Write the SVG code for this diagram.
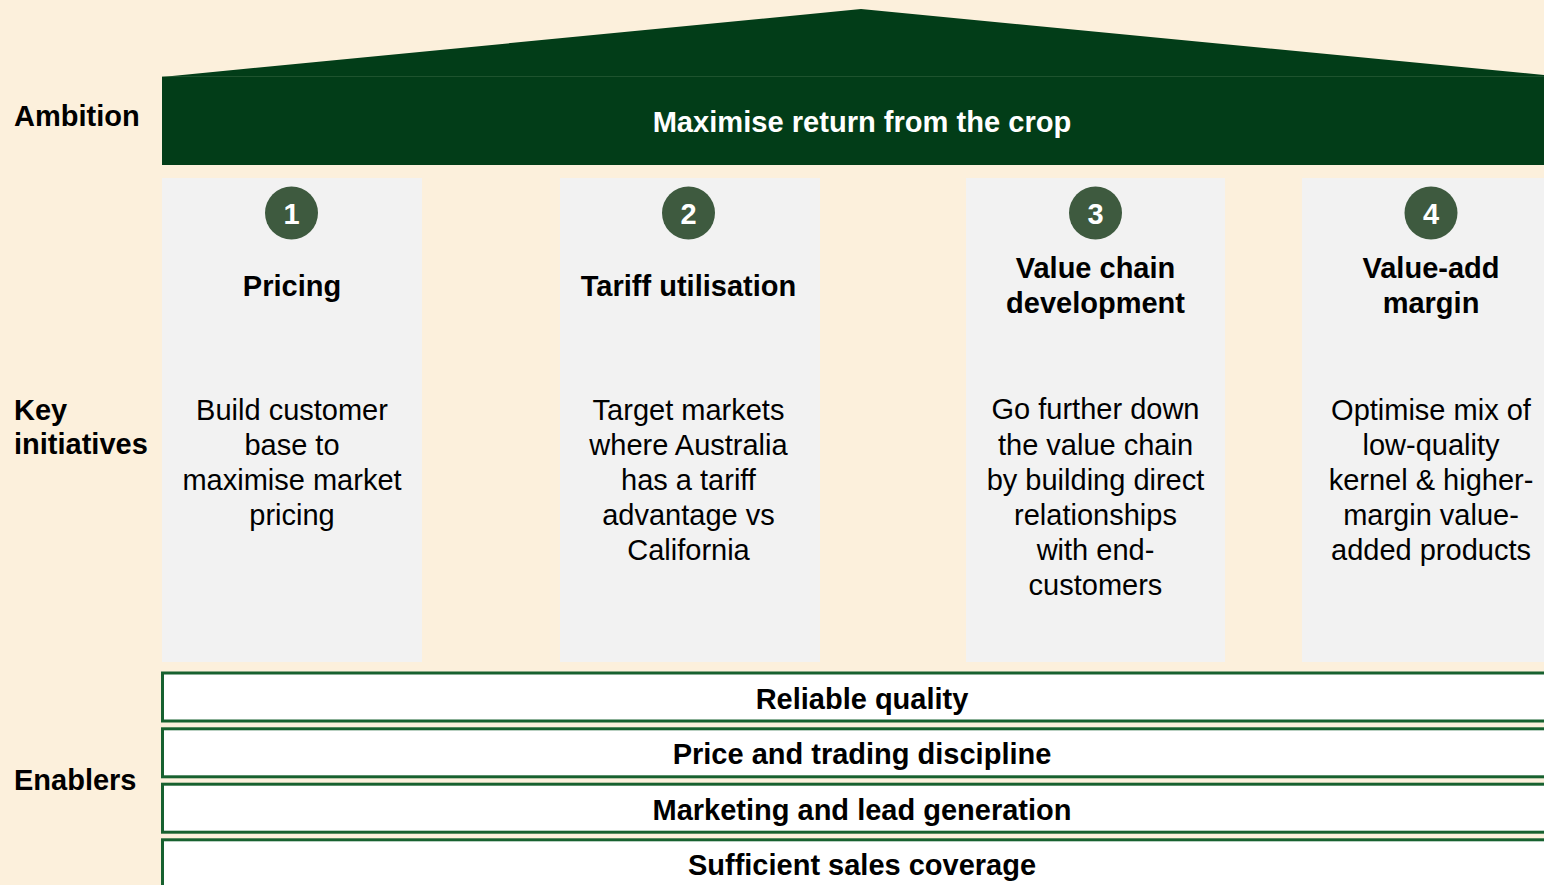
<svg xmlns="http://www.w3.org/2000/svg" width="1544" height="885" viewBox="0 0 1544 885">
  <style>
    .lbl { font-family: "Liberation Sans", Arial, sans-serif; font-size: 29px; font-weight: bold; fill: #000; }
    .ttl { font-family: "Liberation Sans", Arial, sans-serif; font-size: 29px; font-weight: bold; fill: #000; text-anchor: middle; }
    .body { font-family: "Liberation Sans", Arial, sans-serif; font-size: 29px; fill: #000; text-anchor: middle; }
    .num { font-family: "Liberation Sans", Arial, sans-serif; font-size: 29px; font-weight: bold; fill: #fff; text-anchor: middle; }
    .col { fill: #F2F2F2; }
    .circ { fill: #3E5A3F; }
    .bar { fill: #fff; stroke: #17612F; stroke-width: 3; }
  </style>
  <rect x="0" y="0" width="1544" height="885" fill="#FCF0DC"/>

  <g id="labels">
    <text class="lbl" x="14" y="126">Ambition</text>
    <text class="lbl" x="14" y="420">Key</text>
    <text class="lbl" x="14" y="454">initiatives</text>
    <text class="lbl" x="14" y="790">Enablers</text>
  </g>

  <g id="ambition">
    <polygon points="162,77 861,9 1544,75 1544,77" fill="#023D18"/>
    <rect x="162" y="77" width="1382" height="88" fill="#023D18"/>
    <line x1="162" y1="76.5" x2="1544" y2="76.5" stroke="#3a6a44" stroke-width="1" opacity="0.5"/>
    <text x="862" y="132" font-family="Liberation Sans, Arial, sans-serif" font-size="29.1" font-weight="bold" fill="#fff" text-anchor="middle">Maximise return from the crop</text>
  </g>

  <g id="pillar1">
    <rect class="col" x="162" y="178" width="260" height="484"/>
    <circle class="circ" cx="291.5" cy="213" r="26.5"/>
    <text class="num" x="291.5" y="223.5">1</text>
    <text class="ttl" x="292" y="296">Pricing</text>
    <text class="body" x="292" y="420">Build customer</text>
    <text class="body" x="292" y="455">base to</text>
    <text class="body" x="292" y="490">maximise market</text>
    <text class="body" x="292" y="525">pricing</text>
  </g>

  <g id="pillar2">
    <rect class="col" x="560" y="178" width="260" height="484"/>
    <circle class="circ" cx="688.5" cy="213" r="26.5"/>
    <text class="num" x="688.5" y="223.5">2</text>
    <text class="ttl" x="688.5" y="296">Tariff utilisation</text>
    <text class="body" x="688.5" y="420">Target markets</text>
    <text class="body" x="688.5" y="455">where Australia</text>
    <text class="body" x="688.5" y="490">has a tariff</text>
    <text class="body" x="688.5" y="525">advantage vs</text>
    <text class="body" x="688.5" y="560">California</text>
  </g>

  <g id="pillar3">
    <rect class="col" x="966" y="178" width="259" height="484"/>
    <circle class="circ" cx="1095.5" cy="213" r="26.5"/>
    <text class="num" x="1095.5" y="223.5">3</text>
    <text class="ttl" x="1095.5" y="278">Value chain</text>
    <text class="ttl" x="1095.5" y="313">development</text>
    <text class="body" x="1095.5" y="419">Go further down</text>
    <text class="body" x="1095.5" y="454.5">the value chain</text>
    <text class="body" x="1095.5" y="489.5">by building direct</text>
    <text class="body" x="1095.5" y="524.5">relationships</text>
    <text class="body" x="1095.5" y="559.5">with end-</text>
    <text class="body" x="1095.5" y="594.5">customers</text>
  </g>

  <g id="pillar4">
    <rect class="col" x="1302" y="178" width="260" height="484"/>
    <circle class="circ" cx="1431" cy="213" r="26.5"/>
    <text class="num" x="1431" y="223.5">4</text>
    <text class="ttl" x="1431" y="278">Value-add</text>
    <text class="ttl" x="1431" y="313">margin</text>
    <text class="body" x="1431" y="420">Optimise mix of</text>
    <text class="body" x="1431" y="455">low-quality</text>
    <text class="body" x="1431" y="490">kernel &amp; higher-</text>
    <text class="body" x="1431" y="525">margin value-</text>
    <text class="body" x="1431" y="560">added products</text>
  </g>

  <g id="enabler1">
    <rect class="bar" x="162.5" y="673" width="1420" height="48"/>
    <text class="ttl" x="862" y="709">Reliable quality</text>
  </g>
  <g id="enabler2">
    <rect class="bar" x="162.5" y="728.8" width="1420" height="48"/>
    <text class="ttl" x="862" y="764">Price and trading discipline</text>
  </g>
  <g id="enabler3">
    <rect class="bar" x="162.5" y="784.2" width="1420" height="48"/>
    <text class="ttl" x="862" y="820">Marketing and lead generation</text>
  </g>
  <g id="enabler4">
    <rect class="bar" x="162.5" y="839.8" width="1420" height="70"/>
    <text class="ttl" x="862" y="875">Sufficient sales coverage</text>
  </g>

  <g id="connectors"></g>
</svg>
